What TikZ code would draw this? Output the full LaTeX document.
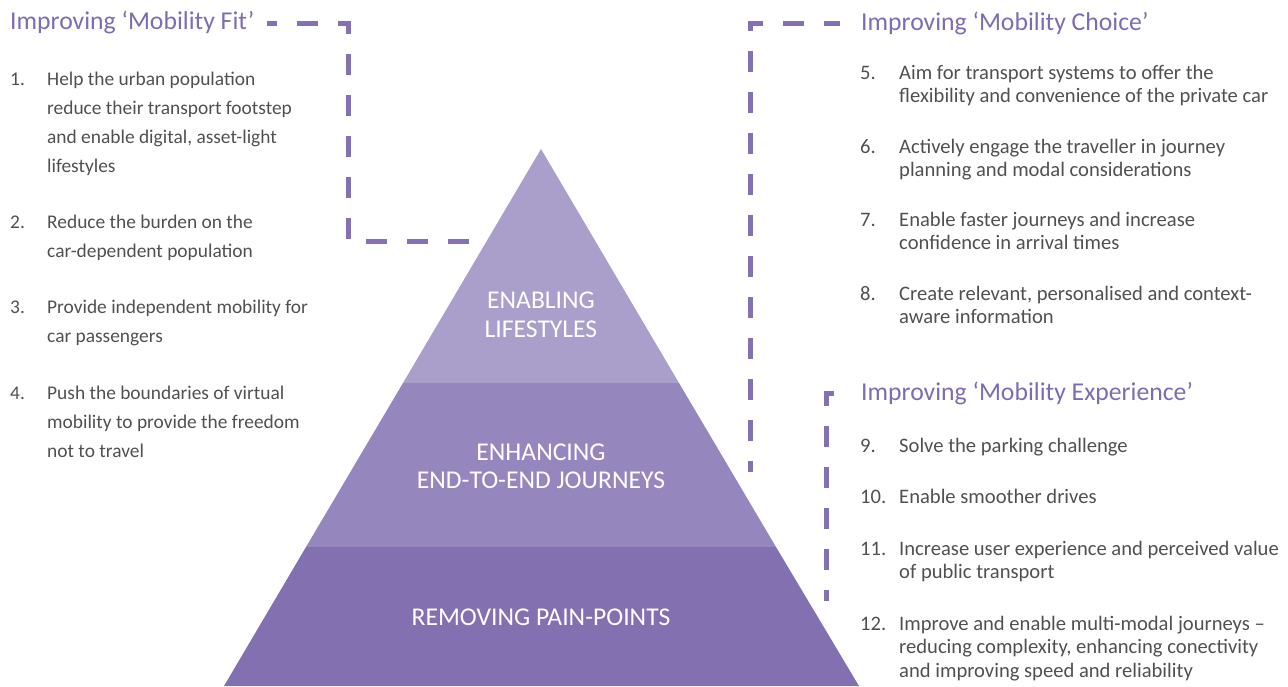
\documentclass[tikz,border=0pt]{standalone}
\usepackage{fontspec}
\setmainfont{Carlito}
\definecolor{headc}{HTML}{7E6BB0}
\definecolor{bodyc}{HTML}{505050}
\definecolor{dashc}{HTML}{8471B5}
\definecolor{bandA}{HTML}{AA9ECB}
\definecolor{bandB}{HTML}{9587BD}
\definecolor{bandC}{HTML}{8270B0}
\newcommand\lbx[1]{\parbox[t]{420pt}{#1}}
\begin{document}
\begin{tikzpicture}[x=1pt,y=-1pt,
  head/.style={anchor=base west, inner sep=0, text=headc, font=\fontsize{25.7}{30}\selectfont},
  lnum/.style={anchor=base west, inner sep=0, text=bodyc, font=\fontsize{19.4}{29}\selectfont},
  rnum/.style={anchor=base west, inner sep=0, text=bodyc, font=\fontsize{20.6}{24}\selectfont},
  litem/.style={anchor=base west, inner sep=0, text=bodyc, font=\fontsize{19.4}{29}\selectfont},
  ritem/.style={anchor=base west, inner sep=0, text=bodyc, font=\fontsize{20.6}{23.8}\selectfont},
  bandtext/.style={text=white, align=center, inner sep=0, font=\fontsize{25.6}{28.5}\selectfont},
  link/.style={draw=dashc, line width=5pt, dash pattern=on 21pt off 20pt}
]
\useasboundingbox (0,0) rectangle (1288,686);

% pyramid bands
\fill[bandA] (541,149) -- (679,383) -- (403,383) -- cycle;
\fill[bandB] (403,383) -- (679,383) -- (776,547) -- (306,547) -- cycle;
\fill[bandC] (306,547) -- (776,547) -- (859,686) -- (224,686) -- cycle;
\node[bandtext] (t1) at (541,315) {ENABLING\\LIFESTYLES};
\node[bandtext] (t2) at (541,466.5) {ENHANCING\\END-TO-END JOURNEYS};
\node[bandtext] (t3) at (541,617) {REMOVING PAIN-POINTS};

% headings
\node[head] (hfit) at (10,29) {Improving ‘Mobility Fit’};
\node[head] (hchoice) at (861,30) {Improving ‘Mobility Choice’};
\node[head] (hexp) at (861,400) {Improving ‘Mobility Experience’};

% left list
\node[lnum] (n1) at (10,85) {1.};
\node[litem] (i1) at (47,85) {\lbx{Help the urban population\\reduce their transport footstep\\and enable digital, asset-light\\lifestyles}};
\node[lnum] (n2) at (10,228) {2.};
\node[litem] (i2) at (47,228) {\lbx{Reduce the burden on the\\car-dependent population}};
\node[lnum] (n3) at (10,313) {3.};
\node[litem] (i3) at (47,313) {\lbx{Provide independent mobility for\\car passengers}};
\node[lnum] (n4) at (10,399) {4.};
\node[litem] (i4) at (47,399) {\lbx{Push the boundaries of virtual\\mobility to provide the freedom\\not to travel}};

% right list
\node[rnum] (n5) at (860,79) {5.};
\node[ritem] (i5) at (899,79) {\lbx{Aim for transport systems to offer the\\flexibility and convenience of the private car}};
\node[rnum] (n6) at (860,153) {6.};
\node[ritem] (i6) at (899,153) {\lbx{Actively engage the traveller in journey\\planning and modal considerations}};
\node[rnum] (n7) at (860,226) {7.};
\node[ritem] (i7) at (899,226) {\lbx{Enable faster journeys and increase\\confidence in arrival times}};
\node[rnum] (n8) at (860,300) {8.};
\node[ritem] (i8) at (899,300) {\lbx{Create relevant, personalised and context-\\aware information}};
\node[rnum] (n9) at (860,452) {9.};
\node[ritem] (i9) at (899,452) {\lbx{Solve the parking challenge}};
\node[rnum] (n10) at (860,503) {10.};
\node[ritem] (i10) at (899,503) {\lbx{Enable smoother drives}};
\node[rnum] (n11) at (860,555) {11.};
\node[ritem] (i11) at (899,555) {\lbx{Increase user experience and perceived value\\of public transport}};
\node[rnum] (n12) at (860,630) {12.};
\node[ritem] (i12) at (899,630) {\lbx{Improve and enable multi-modal journeys –\\reducing complexity, enhancing conectivity\\and improving speed and reliability}};

% dashed connectors
\coordinate (fa) at (267,23);
\coordinate (fb) at (348,23);
\coordinate (fc) at (348,241);
\coordinate (fd) at (470,241);
\draw[link, dash phase=11pt] (fa) -- (fb) -- (fc) -- (fd);

\coordinate (ca) at (750,472);
\coordinate (cb) at (750,23);
\coordinate (cc) at (840,23);
\draw[link, dash phase=10pt] (ca) -- (cb) -- (cc);

\coordinate (ea) at (826,601);
\coordinate (eb) at (826,393);
\coordinate (ec) at (849,393);
\draw[link, dash phase=10pt] (ea) -- (eb) -- (ec);
\end{tikzpicture}
\end{document}
